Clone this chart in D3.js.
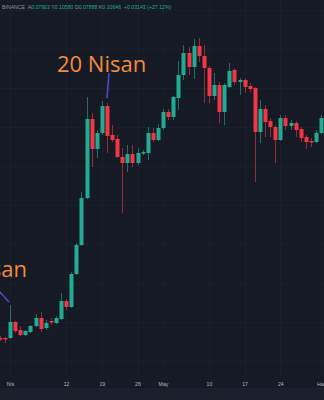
<!DOCTYPE html>
<html><head><meta charset="utf-8">
<script src="https://cdn.jsdelivr.net/npm/d3@7"></script>
<style>html,body{margin:0;padding:0;background:#161a25;overflow:hidden}</style>
</head><body>
<svg id="c" width="324" height="400"></svg>
<script>
// ---- data ----
const dates = ["2021-03-30","2021-03-31","2021-04-01","2021-04-02","2021-04-03","2021-04-04","2021-04-05","2021-04-06","2021-04-07","2021-04-08","2021-04-09","2021-04-10","2021-04-11","2021-04-12","2021-04-13","2021-04-14","2021-04-15","2021-04-16","2021-04-17","2021-04-18","2021-04-19","2021-04-20","2021-04-21","2021-04-22","2021-04-23","2021-04-24","2021-04-25","2021-04-26","2021-04-27","2021-04-28","2021-04-29","2021-04-30","2021-05-01","2021-05-02","2021-05-03","2021-05-04","2021-05-05","2021-05-06","2021-05-07","2021-05-08","2021-05-09","2021-05-10","2021-05-11","2021-05-12","2021-05-13","2021-05-14","2021-05-15","2021-05-16","2021-05-17","2021-05-18","2021-05-19","2021-05-20","2021-05-21","2021-05-22","2021-05-23","2021-05-24","2021-05-25","2021-05-26","2021-05-27","2021-05-28","2021-05-29","2021-05-30","2021-05-31","2021-06-01"];
const open  = [.062,.062,.062,.078,.070,.065,.068,.074,.082,.072,.079,.077,.081,.099,.093,.126,.155,.202,.281,.251,.267,.294,.265,.261,.243,.237,.246,.237,.247,.247,.267,.260,.272,.288,.283,.302,.325,.347,.333,.354,.344,.332,.304,.315,.288,.313,.330,.318,.320,.314,.312,.268,.291,.279,.273,.260,.282,.274,.277,.271,.263,.259,.258,.267];
const high  = [.064,.063,.095,.079,.074,.070,.075,.086,.088,.080,.082,.084,.107,.101,.128,.157,.208,.303,.287,.270,.299,.297,.275,.265,.252,.255,.255,.252,.250,.273,.272,.276,.291,.291,.304,.339,.355,.353,.361,.362,.355,.334,.327,.318,.317,.337,.332,.322,.322,.317,.313,.300,.295,.282,.275,.285,.285,.280,.279,.273,.265,.262,.270,.285];
const low   = [.059,.057,.061,.067,.064,.064,.067,.073,.068,.070,.075,.076,.080,.090,.092,.125,.154,.201,.233,.242,.265,.247,.258,.242,.187,.228,.233,.235,.245,.240,.258,.259,.270,.280,.280,.290,.320,.325,.321,.338,.297,.297,.300,.277,.275,.312,.315,.305,.307,.308,.218,.257,.263,.263,.237,.259,.270,.270,.263,.258,.251,.253,.257,.266];
const close = [.061,.061,.078,.069,.065,.069,.074,.082,.071,.077,.078,.082,.099,.093,.126,.155,.202,.281,.251,.267,.294,.264,.260,.243,.237,.246,.237,.247,.248,.267,.260,.272,.288,.283,.303,.325,.347,.333,.354,.344,.332,.304,.315,.288,.315,.329,.318,.320,.313,.311,.268,.291,.278,.273,.260,.282,.274,.277,.270,.262,.258,.258,.267,.282];
const tickDates  = ["2021-04-01","2021-04-12","2021-04-19","2021-04-26","2021-05-01","2021-05-10","2021-05-17","2021-05-24","2021-06-01"];
const tickLabels = ["Nis","12","19","26","May","10","17","24","Haz"];
const gridPrices = [.039,.078,.117,.156,.195,.234,.273,.312,.351,.390];
const legendParts = [["BINANCE  ","#8a8e99"],["A","#8a8e99"],["0.07903 ","#22ab94"],["Y","#8a8e99"],["0.10580 ","#22ab94"],["D","#8a8e99"],["0.07888 ","#22ab94"],["K","#8a8e99"],["0.10646 ","#22ab94"],[" +0.03143 (+27.12%)","#22ab94"]];
const notes = [{date:"2021-04-20", text:"20 Nisan", tx:57, ty:72, x1:109, y1:73, x2:107, y2:98, anchor:"start"},
               {date:"2021-04-01", text:"1 Nisan", tx:27, ty:277, x1:-1, y1:291, x2:9, y2:302, anchor:"end"}];

// ---- chart ----
const W = 324, H = 400;
const parse = d3.utcParse("%Y-%m-%d");
const rows = dates.map((d,i)=>({date:parse(d), o:open[i], h:high[i], l:low[i], c:close[i]}));
const x = d3.scaleUtc().domain([parse("2021-03-30"), parse("2021-06-01")]).range([-0.2, 321.1]);
const y = d3.scaleLinear().domain([0, 0.4]).range([400, 0]);
const up = "#22ab94", dn = "#f23645";
const svg = d3.select("#c");
svg.append("rect").attr("width",W).attr("height",H).attr("fill","#161a25");

// grid
svg.append("g").selectAll("line").data(gridPrices).join("line")
  .attr("x1",0).attr("x2",W).attr("y1",d=>Math.round(y(d))+0.5).attr("y2",d=>Math.round(y(d))+0.5)
  .attr("stroke","#1b1f2b").attr("stroke-width",1);
svg.append("g").selectAll("line").data(tickDates).join("line")
  .attr("y1",0).attr("y2",376).attr("x1",d=>Math.round(x(parse(d)))+0.5).attr("x2",d=>Math.round(x(parse(d)))+0.5)
  .attr("stroke","#1b1f2b").attr("stroke-width",1);

// candles
const g = svg.append("g");
g.selectAll("line.w").data(rows).join("line").attr("class","w")
  .attr("x1",d=>Math.round(x(d.date))+0.5).attr("x2",d=>Math.round(x(d.date))+0.5)
  .attr("y1",d=>y(d.h)).attr("y2",d=>y(d.l))
  .attr("stroke",d=>d.c>=d.o?up:dn).attr("stroke-opacity",0.6).attr("stroke-width",1);
g.selectAll("rect.b").data(rows).join("rect").attr("class","b")
  .attr("x",d=>Math.round(x(d.date))-1.5).attr("width",4)
  .attr("y",d=>y(Math.max(d.o,d.c)))
  .attr("height",d=>Math.max(1.5, Math.abs(y(d.o)-y(d.c))))
  .attr("fill",d=>d.c>=d.o?up:dn);

// annotations
svg.append("g").selectAll("line").data(notes).join("line")
  .attr("x1",d=>d.x1).attr("y1",d=>d.y1).attr("x2",d=>d.x2).attr("y2",d=>d.y2)
  .attr("stroke","#4a4ad0").attr("stroke-width",1.6);
svg.append("g").selectAll("text").data(notes).join("text")
  .attr("x",d=>d.tx).attr("y",d=>d.ty).attr("text-anchor",d=>d.anchor)
  .attr("font-family","'Open Sans', sans-serif").attr("font-size",22)
  .attr("fill","#f28b3c").text(d=>d.text);

// legend
const lt = svg.append("text").attr("x",2).attr("y",9)
  .attr("font-family","'Liberation Sans', sans-serif").attr("font-size",5.2);
lt.selectAll("tspan").data(legendParts).join("tspan").attr("fill",d=>d[1]).attr("xml:space","preserve").text(d=>d[0]);

// time axis
svg.append("rect").attr("x",0).attr("y",388).attr("width",W).attr("height",12).attr("fill","#1b1f2b");
const ax = svg.append("g").attr("transform","translate(0,376)")
  .call(d3.axisBottom(x).tickValues(tickDates.map(parse)).tickFormat((d,i)=>tickLabels[i]).tickSize(0).tickPadding(6));
ax.select(".domain").remove();
ax.selectAll("text").attr("fill","#b2b5be").attr("font-size",5.2).attr("font-family","'Liberation Sans', sans-serif");
</script>
</body></html>
